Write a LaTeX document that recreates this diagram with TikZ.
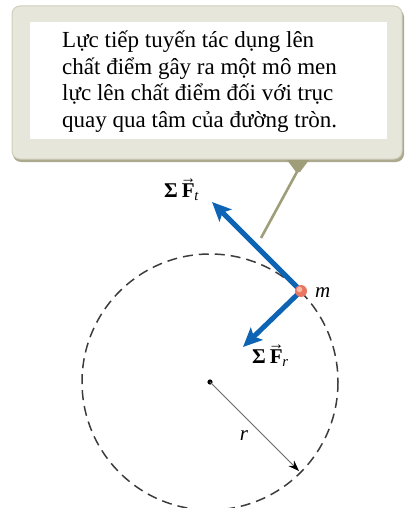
\documentclass[tikz,border=0pt]{standalone}
\usepackage{fontspec}
\setmainfont{Liberation Serif}
\newfontfamily\serifx{Liberation Serif}
\usepackage{graphicx}
\usetikzlibrary{arrows.meta}
\definecolor{forceblue}{RGB}{14,100,180}
\definecolor{boxfill}{RGB}{231,230,218}
\definecolor{boxedge}{RGB}{208,206,188}
\definecolor{boxshadow}{RGB}{172,170,142}
\definecolor{pointer}{RGB}{160,157,122}
\definecolor{massred}{RGB}{232,118,98}
\definecolor{masslight}{RGB}{248,185,165}
\definecolor{circgray}{RGB}{60,60,60}
\newcommand\vecFbold{\ooalign{\textbf{F}\cr\hidewidth\raisebox{0.62em}{\scalebox{0.75}[0.8]{→}}\hidewidth\cr}}
\begin{document}
\begin{tikzpicture}[x=1pt,y=-1pt,
  force/.style={draw=forceblue,line width=5pt,-{Stealth[length=19pt,width=17pt,inset=4pt]}},
  txtline/.style={anchor=base west,inner sep=0pt,font=\serifx\fontsize{23}{23}\selectfont},
  lbl/.style={inner sep=0pt,font=\fontsize{21}{22}\selectfont}]
\useasboundingbox (0,0) rectangle (406,508);
% callout box
\fill[boxshadow,rounded corners=8pt] (13,9) rectangle (404,162);
\filldraw[fill=boxfill,draw=boxedge,line width=1pt,rounded corners=8pt] (12,6) rectangle (402,159);
\fill[white] (30,22) rectangle (387,139);
\node[txtline] (l1) at (62,48) {Lực tiếp tuyến tác dụng lên};
\node[txtline] (l2) at (62,74.5) {chất điểm gây ra một mô men};
\node[txtline] (l3) at (62,101) {lực lên chất điểm đối với trục};
\node[txtline] (l4) at (62,127) {quay qua tâm của đường tròn.};
% pointer
\fill[pointer] (287,160) -- (309,160) -- (300,172) -- (296,172) -- cycle;
\coordinate (ptop) at (298,170);
\coordinate (pend) at (261,238);
\draw[pointer,line width=2.6pt] (ptop) -- (pend);
% circle
\coordinate (O) at (210,382);
\draw[circgray,line width=1.5pt,dash pattern=on 10pt off 6pt] (O) circle[radius=128];
\coordinate (mc) at (301,291);
\coordinate (Ft) at (212,202);
\coordinate (Fr) at (243,347);
\draw[force] (mc) -- (Ft);
\draw[force] (mc) -- (Fr);
\node[circle,fill=massred,inner sep=0pt,minimum size=12pt] (m) at (mc) {};
\fill[masslight] ([shift={(-1.5,-1.5)}]mc) circle[radius=2.8];
% radius
\fill[black] (O) circle[radius=2.6];
\coordinate (R) at (299,471);
\draw[gray!80!black,line width=1pt,-{Stealth[length=11pt,width=8pt,black]}] (O) -- (R);
% labels
\node[lbl,anchor=base west] (ftlbl) at (164,197) {\textbf{Σ}\kern4pt\vecFbold\textsubscript{\kern-0.5pt\textit{t}}};
\node[lbl,anchor=base west] (frlbl) at (252,363) {\textbf{Σ}\kern4pt\vecFbold\textsubscript{\kern-0.5pt\textit{r}}};
\node[lbl,anchor=base west] (mlbl) at (315,297) {\textit{m}};
\node[lbl,anchor=base] (rlbl) at (244,440) {\textit{r}};
\end{tikzpicture}
\end{document}
